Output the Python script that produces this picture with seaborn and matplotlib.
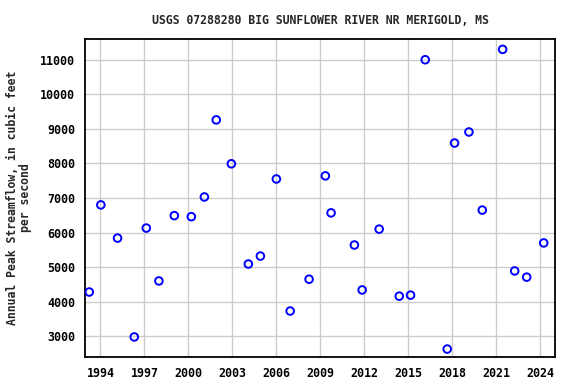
import matplotlib
matplotlib.use("Agg")
import matplotlib.pyplot as plt
import seaborn as sns
import pandas as pd

title = "USGS 07288280 BIG SUNFLOWER RIVER NR MERIGOLD, MS"
ylabel = "Annual Peak Streamflow, in cubic feet\nper second"

years = [1993.24, 1994.03, 1995.17, 1996.31, 1997.13, 1997.99, 1999.04, 2000.20,
         2001.09, 2001.90, 2002.93, 2004.09, 2004.91, 2006.00, 2006.94, 2008.23,
         2009.34, 2009.73, 2011.32, 2011.85, 2013.01, 2014.38, 2015.15, 2016.15,
         2017.65, 2018.15, 2019.13, 2020.04, 2021.43, 2022.25, 2023.07, 2024.23]
peaks = [4280, 6800, 5840, 2980, 6130, 4600, 6490, 6460,
         7030, 9260, 7990, 5090, 5320, 7550, 3730, 4650,
         7640, 6570, 5640, 4340, 6100, 4160, 4190, 11000,
         2630, 8590, 8910, 6650, 11300, 4890, 4710, 5700]

xticks = [1994, 1997, 2000, 2003, 2006, 2009, 2012, 2015, 2018, 2021, 2024]
yticks = [3000, 4000, 5000, 6000, 7000, 8000, 9000, 10000, 11000]

df = pd.DataFrame({"year": years, "peak": peaks})

sns.set_theme(style="white")
plt.rcParams["font.family"] = ["DejaVu Sans Mono"]
plt.rcParams["font.weight"] = "bold"

fig = plt.figure(figsize=(5.76, 3.84), dpi=100)
ax = fig.add_axes([85/576, 27/384, 470/576, 318/384])

sns.scatterplot(data=df, x="year", y="peak", ax=ax, marker="o", s=30,
                facecolor="none", edgecolor="#0000ff", linewidth=1.4, zorder=3)

ax.set_xlim(1992.95, 2025.0)
ax.set_ylim(2400, 11600)
ax.set_xticks(xticks)
ax.set_xticklabels([str(t) for t in xticks])
ax.set_yticks(yticks)
ax.set_yticklabels([str(t) for t in yticks])
ax.grid(True, color="#cccccc", linewidth=1.0, zorder=0)
ax.set_axisbelow(True)
for sp in ax.spines.values():
    sp.set_color("black")
    sp.set_linewidth(1.3)
ax.tick_params(axis="both", length=0, labelsize=8.4, pad=7, colors="black")
for lab in ax.get_xticklabels() + ax.get_yticklabels():
    lab.set_fontweight("bold")

ax.set_xlabel("")
ax.set_ylabel(ylabel, fontsize=8.3, fontweight="bold", labelpad=6, linespacing=1.0)
fig.text(320/576, 1 - 20/384, title, ha="center", va="center",
         fontsize=8.3, fontweight="bold")

fig.savefig("out.png", dpi=100)
